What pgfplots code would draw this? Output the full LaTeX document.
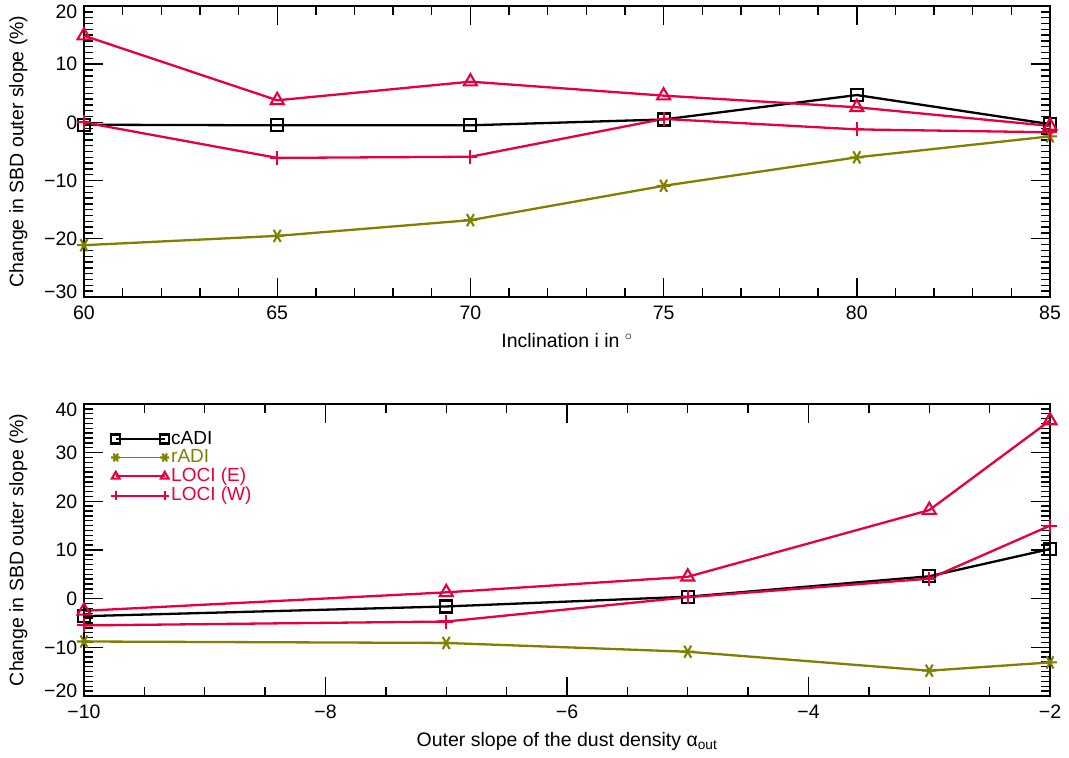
\documentclass[border=0pt]{standalone}
\usepackage{fontspec}
\setmainfont{Liberation Sans}
\usepackage{pgfplots}
\pgfplotsset{compat=1.18}
\definecolor{cred}{RGB}{232,0,62}
\definecolor{colive}{RGB}{128,128,0}
\newcommand{\dn}[1]{\raisebox{-6pt}[\height][\depth]{#1}}
\newcommand{\up}[1]{\raisebox{5pt}[\height][\depth]{#1}}
\begin{document}
\fontsize{19.5}{22}\selectfont
\begin{tikzpicture}[x=1pt,y=1pt]
\useasboundingbox (0,0) rectangle (1069,758);
\pgfplotsset{
  myax/.style={
    scale only axis, width=966pt, height=291pt,
    axis line style={line width=1.6pt},
    every tick/.style={black, line width=1.4pt},
    major tick length=19pt, minor tick length=9pt,
    tick align=inside,
    tick label style={font=\fontsize{19.5}{22}\selectfont},
    x tick label style={yshift=-2pt},
    label style={font=\fontsize{19.5}{22}\selectfont},
    ylabel={Change in SBD outer slope (\%)},
    ylabel style={at={(axis description cs:-0.068,0.5)}, anchor=center},
    xlabel style={yshift=-1pt},
    every axis plot/.append style={line width=2.3pt, mark options={solid, line width=2.1pt}},
    clip=false,
  },
  sq/.style={black, mark=square, mark size=6pt},
  ast/.style={colive, mark=asterisk, mark size=7pt, mark options={solid, line width=2.1pt, rotate=90}},
  tri/.style={cred, mark=triangle, mark size=7.5pt},
  pls/.style={cred, mark=+, mark size=7pt},
}
\begin{axis}[myax, at={(84pt,461pt)}, anchor=south west,
  xmin=60, xmax=85, ymin=-30, ymax=20,
  xtick={60,65,70,75,80,85}, xticklabels={60,65,70,75,80,85}, minor x tick num=4,
  ytick={-30,-20,-10,0,10,20}, yticklabels={\up{−30},−20,−10,0,10,\dn{20}}, minor y tick num=9,
  xlabel={Inclination i in $^{\circ}$},
]
\addplot[sq] coordinates {(60,-0.4) (65,-0.5) (70,-0.5) (75,0.5) (80,4.7) (85,-0.3)};
\addplot[ast] coordinates {(60,-21.1) (65,-19.5) (70,-16.8) (75,-10.9) (80,-6.0) (85,-2.4)};
\addplot[tri] coordinates {(60,14.9) (65,3.8) (70,7.0) (75,4.6) (80,2.6) (85,-0.6)};
\addplot[pls] coordinates {(60,0.0) (65,-6.1) (70,-5.9) (75,0.6) (80,-1.2) (85,-1.7)};
\end{axis}
\begin{axis}[myax, at={(84pt,62pt)}, anchor=south west,
  height=292pt,
  xmin=-10, xmax=-2, ymin=-20, ymax=40,
  xtick={-10,-8,-6,-4,-2}, xticklabels={−10,−8,−6,−4,−2}, minor x tick num=3,
  ytick={-20,-10,0,10,20,30,40}, yticklabels={\up{−20},−10,0,10,20,30,\dn{40}}, minor y tick num=9,
  xlabel={Outer slope of the dust density α\textsubscript{out}},
  legend style={draw=none, fill=none, at={(rel axis cs:0.028,0.915)}, anchor=north west,
    row sep=-1.5pt, font=\fontsize{19}{21}\selectfont, inner sep=0pt,
    nodes={inner sep=2pt}},
  legend cell align=left,
  legend image code/.code={\draw[#1, mark size=4.5pt, line width=1.9pt] plot coordinates {(0pt,0pt) (49pt,0pt)};},
]
\addplot[sq] coordinates {(-10,-3.6) (-7,-1.6) (-5,0.4) (-3,4.6) (-2,10.2)};
\addlegendentry{\textcolor{black}{cADI}}
\addplot[ast] coordinates {(-10,-8.8) (-7,-9.1) (-5,-10.9) (-3,-14.8) (-2,-13.1)};
\addlegendentry{\textcolor{colive}{rADI}}
\addplot[tri] coordinates {(-10,-2.5) (-7,1.3) (-5,4.5) (-3,18.2) (-2,36.6)};
\addlegendentry{\textcolor{cred}{LOCI (E)}}
\addplot[pls] coordinates {(-10,-5.5) (-7,-4.7) (-5,0.3) (-3,4.1) (-2,15.0)};
\addlegendentry{\textcolor{cred}{LOCI (W)}}
\end{axis}
\end{tikzpicture}
\end{document}
